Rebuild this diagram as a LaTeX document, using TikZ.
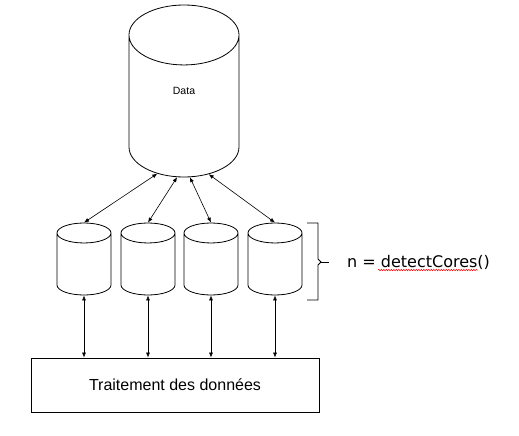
\documentclass[tikz,border=0pt]{standalone}
\usepackage{fontspec}
\setmainfont{Liberation Sans}
\newfontfamily\callfont{DejaVu Sans}
\usetikzlibrary{arrows.meta, positioning, shapes.geometric, decorations.pathmorphing, calc}

\begin{document}
\begin{tikzpicture}[
        x=1pt, y=-1pt,
        db/.style={cylinder, shape border rotate=90, draw, line width=0.8pt, inner ysep=10pt, anchor=shape center},
        big db/.style={db, inner xsep=55pt, minimum height=172pt, aspect=0.545},
        small db/.style={db, inner xsep=27pt, minimum height=72pt, aspect=0.37},
        task box/.style={draw, line width=0.8pt, minimum width=288pt, minimum height=54pt, font=\fontsize{16}{19}\selectfont},
        every edge/.style={draw, {Latex[length=5pt,width=4pt]}-{Latex[length=5pt,width=4pt]}, line width=0.6pt},
        call/.style={anchor=west, inner sep=0pt, font=\callfont\fontsize{16}{19}\selectfont}
      ]
      \useasboundingbox (0,0) rectangle (519,436);

      % Nodes
      \node[big db] (data) at (184,91) {};
      \node[font=\fontsize{10.5}{12}\selectfont] (datalabel) at (data.shape center) {Data};
      \node[small db] (db1) at (84,259) {};
      \node[small db] (db2) at (148,259) {};
      \node[small db] (db3) at (211,259) {};
      \node[small db] (db4) at (275,259) {};
      \node[task box] (task) at (175,385) {Traitement des données};
      \node[call] (cores) at (347,262) {n = detectCores()};

      % Edges
      \draw (data.243) edge (db1.north);
      \draw (data.263) edge (db2.north);
      \draw (data.276) edge (db3.north);
      \draw (data.295) edge (db4.north);
      \foreach \i in {1,...,4}
        \draw (db\i.south) edge (db\i.south |- task.north);

      % Bracket
      \draw[line width=0.8pt] (307,223) -- (318,223) -- (318,259) -- (321,262) -- (318,265) -- (318,300) -- (307,300);
      \draw[line width=0.8pt] (321,262) -- (cores.west -| 329,0);
      \draw[red, line width=0.5pt, decorate, decoration={snake, amplitude=0.7pt, segment length=2.5pt}]
        ($(cores.base west)+(31,3)$) -- ($(cores.base east)+(-12,3)$);
    \end{tikzpicture}
\end{document}
